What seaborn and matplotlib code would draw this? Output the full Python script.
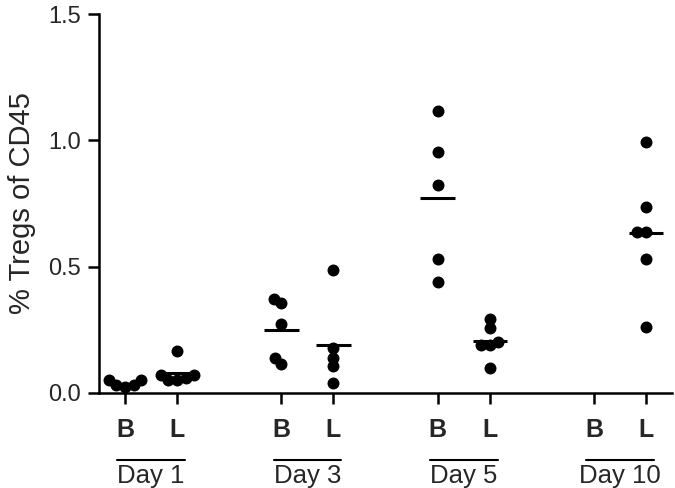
import numpy as np
import pandas as pd
import matplotlib
matplotlib.use("Agg")
import matplotlib.pyplot as plt
import matplotlib.transforms as mtransforms
import seaborn as sns

# values (% Tregs of CD45)
days = ["Day 1", "Day 3", "Day 5", "Day 10"]
groups = ["B", "L"]
day1_B = [0.05, 0.05, 0.03, 0.025, 0.03]
day1_L = [0.166, 0.07, 0.07, 0.06, 0.05, 0.05]
day3_B = [0.356, 0.372, 0.273, 0.115, 0.138]
day3_L = [0.486, 0.18, 0.14, 0.107, 0.04]
day5_B = [1.118, 0.952, 0.822, 0.53, 0.439]
day5_L = [0.292, 0.257, 0.2, 0.19, 0.19, 0.099]
day10_B = []
day10_L = [0.992, 0.735, 0.636, 0.636, 0.53, 0.261]

series = {
    ("Day 1", "B"): day1_B, ("Day 1", "L"): day1_L,
    ("Day 3", "B"): day3_B, ("Day 3", "L"): day3_L,
    ("Day 5", "B"): day5_B, ("Day 5", "L"): day5_L,
    ("Day 10", "B"): day10_B, ("Day 10", "L"): day10_L,
}

# x position: groups of two with one empty slot between days
rows = []
positions = {}
for i, d in enumerate(days):
    for j, g in enumerate(groups):
        x = i * 3 + j
        positions[(d, g)] = x
        for v in series[(d, g)]:
            rows.append([x, v, d, g])
df = pd.DataFrame(rows, columns=["pos", "value", "day", "group"])

sns.set_style("ticks")
plt.rcParams["font.family"] = ["Liberation Sans", "DejaVu Sans"]

fig = plt.figure(figsize=(6.75, 4.88), dpi=100)
ax = fig.add_axes([0.1467, 0.1947, 0.849, 0.7766])

ax.set_xlim(-0.5, 10.5)
ax.set_ylim(0, 1.5)

# swarm laid out with small dots so they overlap like the original scatter
sns.swarmplot(data=df, x="pos", y="value", native_scale=True, color="black",
              size=6, linewidth=0, ax=ax, clip_on=False, zorder=3)
ax.set_xlim(-0.5, 10.5)
ax.set_ylim(0, 1.5)
fig.canvas.draw()
for coll in ax.collections:
    if "draw" in coll.__dict__:
        del coll.draw  # freeze the swarm positions
    coll.set_sizes([8.6 ** 2])

# mean lines
for key, vals in series.items():
    if len(vals) == 0:
        continue
    x = positions[key]
    ax.hlines(np.mean(vals), x - 0.33, x + 0.33, color="black", lw=2.2, zorder=2)

ax.set_yticks([0, 0.5, 1.0, 1.5])
ax.set_yticklabels(["0.0", "0.5", "1.0", "1.5"], fontsize=17)
ticks = [positions[(d, g)] for d in days for g in groups]
ax.set_xticks(ticks)
ax.set_xticklabels([g for d in days for g in groups], fontsize=18, fontweight="bold")
ax.tick_params(axis="x", length=8, width=1.8, pad=10, color="black")
ax.tick_params(axis="y", length=8, width=1.8, pad=5, color="black")
ax.set_xlabel("")
ax.set_ylabel("% Tregs of CD45", fontsize=21, labelpad=9)

sns.despine(ax=ax)
for side in ["left", "bottom"]:
    ax.spines[side].set_linewidth(1.8)
    ax.spines[side].set_color("black")

# day labels with underline
trans = mtransforms.blended_transform_factory(ax.transData, ax.transAxes)
for d in days:
    xb = positions[(d, "B")]
    xl = positions[(d, "L")]
    ax.plot([xb - 0.15, xl + 0.15], [-0.177, -0.177], color="black", lw=1.5,
            transform=trans, clip_on=False)
    ax.text((xb + xl) / 2, -0.188, d, transform=trans, ha="center", va="top",
            fontsize=18.5)

fig.savefig("out.png", dpi=100)
